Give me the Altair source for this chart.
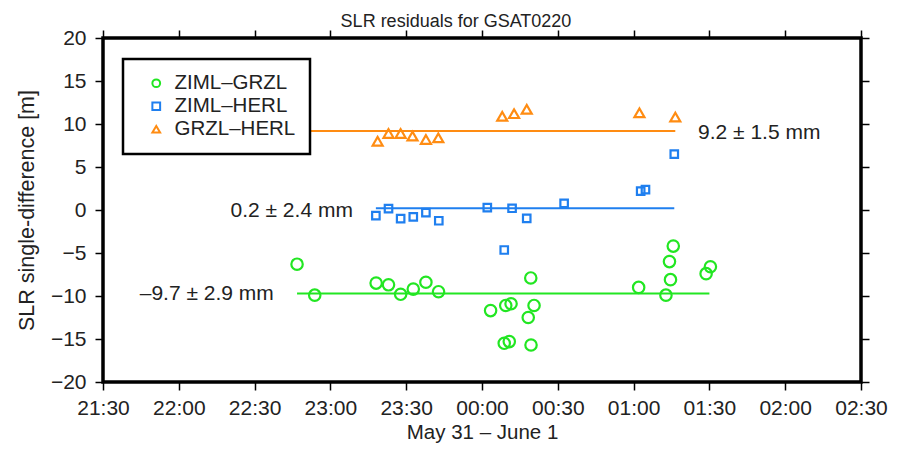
import altair as alt
import pandas as pd

# ---------------- data ----------------
series_names = ["ZIML–GRZL", "ZIML–HERL", "GRZL–HERL"]
series_colors = ["#22e622", "#1f7fef", "#ff8c12"]
series_shapes = ["circle", "square", "triangle-up"]
series_sizes = [130, 56, 100]

green_times = ["22:46:48", "22:53:48", "23:18:06", "23:23:00", "23:27:48", "23:32:48",
               "23:37:48", "23:42:48", "00:03:24", "00:09:24", "00:11:30", "00:19:18",
               "00:20:36", "00:18:18", "00:08:48", "00:10:48", "00:19:24", "01:02:00",
               "01:12:48", "01:14:36", "01:14:12", "01:15:42", "01:28:42", "01:30:24"]
green_vals = [-6.3, -9.9, -8.5, -8.7, -9.8, -9.2,
              -8.4, -9.5, -11.7, -11.1, -10.9, -7.9,
              -11.1, -12.5, -15.5, -15.3, -15.7, -9.0,
              -9.9, -8.1, -6.0, -4.2, -7.4, -6.6]

blue_times = ["23:18:00", "23:23:00", "23:27:48", "23:32:48", "23:37:48", "23:42:54",
              "00:02:06", "00:08:48", "00:11:54", "00:17:42", "00:32:30", "01:02:48",
              "01:04:42", "01:16:06"]
blue_vals = [-0.65, 0.15, -1.0, -0.8, -0.3, -1.25,
             0.27, -4.65, 0.2, -0.97, 0.78, 2.2,
             2.37, 6.5]

orange_times = ["23:18:42", "23:23:00", "23:27:48", "23:32:30", "23:37:48", "23:42:42",
                "00:08:00", "00:12:42", "00:17:42", "01:02:18", "01:16:30"]
orange_vals = [8.0, 8.9, 8.9, 8.6, 8.2, 8.4,
               10.9, 11.2, 11.7, 11.3, 10.8]

mean_vals = [-9.7, 0.2, 9.2]
line_start = ["22:46:48", "23:18:00", "22:46:48"]
line_end = ["01:30:00", "01:16:06", "01:16:30"]

note_texts = ["–9.7 ± 2.9 mm", "0.2 ± 2.4 mm", "9.2 ± 1.5 mm"]
note_times = ["22:37:36", "23:08:54", "01:25:30"]
note_vals = [-9.8, -0.1, 9.0]
note_align = ["right", "right", "left"]

x_tick_labels = ["21:30", "22:00", "22:30", "23:00", "23:30", "00:00",
                 "00:30", "01:00", "01:30", "02:00", "02:30"]
y_ticks = [-20, -15, -10, -5, 0, 5, 10, 15, 20]


# ---------------- helpers ----------------
def stamp(t):
    h = int(t.split(":")[0])
    day = "2021-05-31" if h >= 12 else "2021-06-01"
    return f"{day}T{t}"


def dt(t):
    h, m = [int(p) for p in t.split(":")[:2]]
    if h >= 12:
        return alt.DateTime(year=2021, month=5, date=31, hours=h, minutes=m)
    return alt.DateTime(year=2021, month=6, date=1, hours=h, minutes=m)


rows = []
for name, times, vals in zip(series_names, [green_times, blue_times, orange_times],
                             [green_vals, blue_vals, orange_vals]):
    for t, v in zip(times, vals):
        rows.append({"series": name, "time": stamp(t), "value": v})
points = pd.DataFrame(rows)

lines = pd.DataFrame({
    "series": series_names,
    "start": [stamp(t) for t in line_start],
    "end": [stamp(t) for t in line_end],
    "mean": mean_vals,
})

notes = pd.DataFrame({
    "label": note_texts,
    "time": [stamp(t) for t in note_times],
    "value": note_vals,
    "side": note_align,
})

FONT = "Liberation Sans"
x_dom = [dt(x_tick_labels[0]), dt(x_tick_labels[-1])]
x_vals = [dt(t) for t in x_tick_labels]
xscale = alt.Scale(domain=x_dom, nice=False)
yscale = alt.Scale(domain=[-20, 20], nice=False, zero=False)

color_enc = alt.Color("series:N",
                      scale=alt.Scale(domain=series_names, range=series_colors),
                      title=None)
shape_enc = alt.Shape("series:N",
                      scale=alt.Scale(domain=series_names, range=series_shapes),
                      title=None)

# mean lines, one rule layer per series (drawn first, below everything)
rule_layers = []
for i, name in enumerate(series_names):
    if i == 0:
        xax = alt.Axis(title=None, labels=False, orient="top", values=x_vals)
        yax = alt.Axis(title=None, labels=False, orient="right", values=y_ticks)
    else:
        xax = None
        yax = None
    rule_layers.append(
        alt.Chart(lines).transform_filter(alt.datum.series == name)
        .mark_rule(strokeWidth=2, color=series_colors[i]).encode(
            x=alt.X("start:T", scale=xscale, axis=xax),
            x2="end:T",
            y=alt.Y("mean:Q", scale=yscale, axis=yax),
        )
    )

point_layers = []
for i, name in enumerate(series_names):
    if i == 0:
        xax = alt.Axis(title="May 31 – June 1", format="%H:%M", values=x_vals,
                       orient="bottom", labelPadding=7, titlePadding=4,
                       titleFontSize=20.5, labelFlush=False)
        yax = alt.Axis(title="SLR single-difference [m]", values=y_ticks,
                       orient="left", labelPadding=9, titlePadding=12,
                       titleFontSize=21.5)
    else:
        xax = None
        yax = None
    point_layers.append(
        alt.Chart(points).transform_filter(alt.datum.series == name)
        .mark_point(filled=False, strokeWidth=2.2, opacity=1, size=series_sizes[i]).encode(
            x=alt.X("time:T", scale=xscale, axis=xax),
            y=alt.Y("value:Q", scale=yscale, axis=yax),
            color=color_enc,
            shape=shape_enc,
        )
    )

text_layers = []
for side in ["right", "left"]:
    text_layers.append(
        alt.Chart(notes).transform_filter(alt.datum.side == side).mark_text(
            align=side, baseline="middle", fontSize=21, font=FONT, color="#222"
        ).encode(
            x=alt.X("time:T", scale=xscale, axis=None),
            y=alt.Y("value:Q", scale=yscale, axis=None),
            text="label:N",
        )
    )

chart = alt.layer(*rule_layers, *point_layers, *text_layers).resolve_axis(
    x="independent", y="independent"
).properties(
    width=758, height=344,
    autosize=alt.AutoSizeParams(type="none"),
    padding={"left": 95, "top": 30, "right": 30, "bottom": 62},
    title=alt.Title("SLR residuals for GSAT0220", fontSize=18, font=FONT,
                    fontWeight="normal", color="#222", anchor="middle",
                    frame="group", dx=-26, offset=-4),
).configure_view(
    stroke="black", strokeWidth=3.5
).configure_axis(
    domain=False, grid=False, tickColor="black", tickSize=8, tickWidth=1.5,
    labelFont=FONT, labelFontSize=21, labelColor="#222",
    titleFont=FONT, titleFontWeight="normal", titleColor="#222",
).configure_legend(
    orient="none", legendX=20, legendY=21, zindex=1,
    strokeColor="black", strokeWidth=2.5, fillColor="white", padding=14,
    cornerRadius=0, labelFont=FONT, labelFontSize=20.5, labelColor="#222",
    symbolSize=60, symbolStrokeWidth=2, symbolOffset=9, labelOffset=8,
    rowPadding=2,
)

chart.save("out.html", embed_options={"renderer": "svg", "actions": False})
